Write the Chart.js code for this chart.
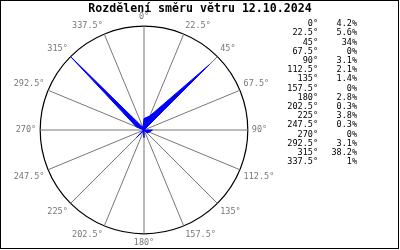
<!DOCTYPE html>
<html>
<head>
<meta charset="utf-8">
<script src="https://cdn.jsdelivr.net/npm/chart.js@4"></script>
<style>
  html, body { margin: 0; padding: 0; background: #fff; }
  #wrap { width: 400px; height: 250px; }
</style>
</head>
<body>
<div id="wrap"><canvas id="chart" width="400" height="250"></canvas></div>
<script>
const title = "Rozdělení směru větru 12.10.2024";
const directions = [0, 22.5, 45, 67.5, 90, 112.5, 135, 157.5, 180, 202.5, 225, 247.5, 270, 292.5, 315, 337.5];
const percents = [4.2, 5.6, 34, 0, 3.1, 2.1, 1.4, 0, 2.8, 0.3, 3.8, 0.3, 0, 3.1, 38.2, 1];

const dirLabels = directions.map(d => d + "°");
const maxValue = Math.max(...percents);

// border, title over the whole picture and the text table on the right
const extras = {
  id: "extras",
  afterDraw(chart) {
    const ctx = chart.ctx;
    ctx.save();
    ctx.strokeStyle = "#000";
    ctx.lineWidth = 1;
    ctx.strokeRect(0.5, 0.5, 398, 248);

    ctx.fillStyle = "#000";
    ctx.textBaseline = "middle";
    ctx.textAlign = "center";
    ctx.font = "bold 11.6px 'DejaVu Sans Mono'";
    ctx.fillText(title, 200, 9);

    ctx.font = "8.5px 'DejaVu Sans Mono'";
    ctx.textAlign = "right";
    directions.forEach((d, i) => {
      const y = 24 + i * 9.2;
      ctx.fillText(dirLabels[i], 318, y);
      ctx.fillText(percents[i] + "%", 357, y);
    });
    ctx.restore();
  }
};

const ctx = document.getElementById("chart").getContext("2d");
new Chart(ctx, {
  type: "radar",
  data: {
    labels: dirLabels,
    datasets: [{
      data: percents,
      backgroundColor: "#0000ff",
      borderColor: "#0000ff",
      borderWidth: 1,
      pointRadius: 0,
      fill: true
    }]
  },
  options: {
    responsive: false,
    animation: false,
    layout: { padding: { left: 0, right: 112, top: 12, bottom: 2 } },
    plugins: {
      legend: { display: false },
      tooltip: { enabled: false },
      title: { display: false }
    },
    scales: {
      r: {
        min: 0,
        max: maxValue,
        afterBuildTicks: s => { s.ticks = [{ value: 0 }, { value: maxValue }]; },
        ticks: { display: false },
        grid: { circular: true, color: "#000", lineWidth: 1.2 },
        angleLines: { color: "#777", lineWidth: 1 },
        pointLabels: {
          padding: 4,
          color: "#777",
          font: { family: "'DejaVu Sans Mono'", size: 8.5 }
        }
      }
    }
  },
  plugins: [extras]
});
</script>
</body>
</html>
